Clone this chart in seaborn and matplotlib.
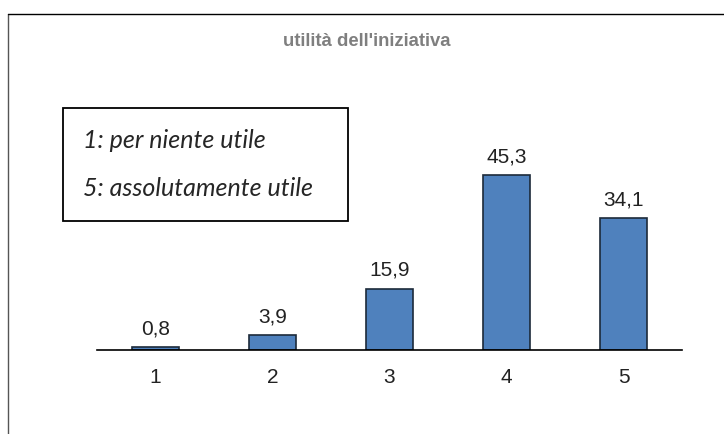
import matplotlib
matplotlib.use("Agg")
import matplotlib.pyplot as plt
import pandas as pd
import seaborn as sns
from matplotlib.patches import Rectangle
from matplotlib.lines import Line2D

# data
categories = ["1", "2", "3", "4", "5"]
values = [0.8, 3.9, 15.9, 45.3, 34.1]
value_labels = ["0,8", "3,9", "15,9", "45,3", "34,1"]
title = "utilità dell'iniziativa"
note_lines = ["1: per niente utile", "5: assolutamente utile"]


def plot():
    df = pd.DataFrame({"punteggio": categories, "percentuale": values})

    sns.set_style("white")
    plt.rcParams['font.family'] = ['Liberation Sans', 'DejaVu Sans']

    fig = plt.figure(figsize=(7.24, 4.35), dpi=100)
    ax = fig.add_axes([97 / 724, 84 / 435, 585 / 724, 251 / 435])

    sns.barplot(data=df, x="punteggio", y="percentuale", ax=ax,
                color="#4F81BD", saturation=1, width=0.4,
                edgecolor="#1c2a3a", linewidth=1.2)

    ax.set_xlim(-0.5, 4.5)
    ax.set_ylim(0, 65)
    ax.set_xlabel("")
    ax.set_ylabel("")
    ax.set_yticks([])
    for side in ["top", "right", "left"]:
        ax.spines[side].set_visible(False)
    ax.spines["bottom"].set_color("black")
    ax.spines["bottom"].set_linewidth(1.2)
    ax.tick_params(axis="x", length=0, pad=12, labelsize=15, colors="#222222")

    for bar, lab in zip(ax.patches, value_labels):
        ax.annotate(lab, (bar.get_x() + bar.get_width() / 2, bar.get_height()),
                    xytext=(0, 7), textcoords="offset points",
                    ha="center", va="bottom", fontsize=15, color="#222222")

    fig.text(367 / 724, 1 - 42 / 435, title, ha="center", va="center",
             fontsize=13.3, fontweight="bold", color="#7f7f7f")

    # frame of the chart area (top and left edges visible)
    fig.add_artist(Line2D([8 / 724, 8 / 724], [0, 1 - 15 / 435],
                          transform=fig.transFigure, color="#555555", lw=1))
    fig.add_artist(Line2D([8 / 724, 1], [1 - 15 / 435, 1 - 15 / 435],
                          transform=fig.transFigure, color="black", lw=1))

    # note box
    fig.add_artist(Rectangle((63 / 724, 1 - 222 / 435), 285 / 724, 113 / 435,
                             transform=fig.transFigure, fill=False,
                             edgecolor="black", lw=1.3))
    fig.text(83 / 724, 1 - 140 / 435, note_lines[0], ha="left", va="center",
             fontsize=18, style="italic", family=["Lato", "DejaVu Sans"])
    fig.text(83 / 724, 1 - 188 / 435, note_lines[1], ha="left", va="center",
             fontsize=18, style="italic", family=["Lato", "DejaVu Sans"])

    fig.savefig("out.png", dpi=100)


if __name__ == '__main__':
    plot()
